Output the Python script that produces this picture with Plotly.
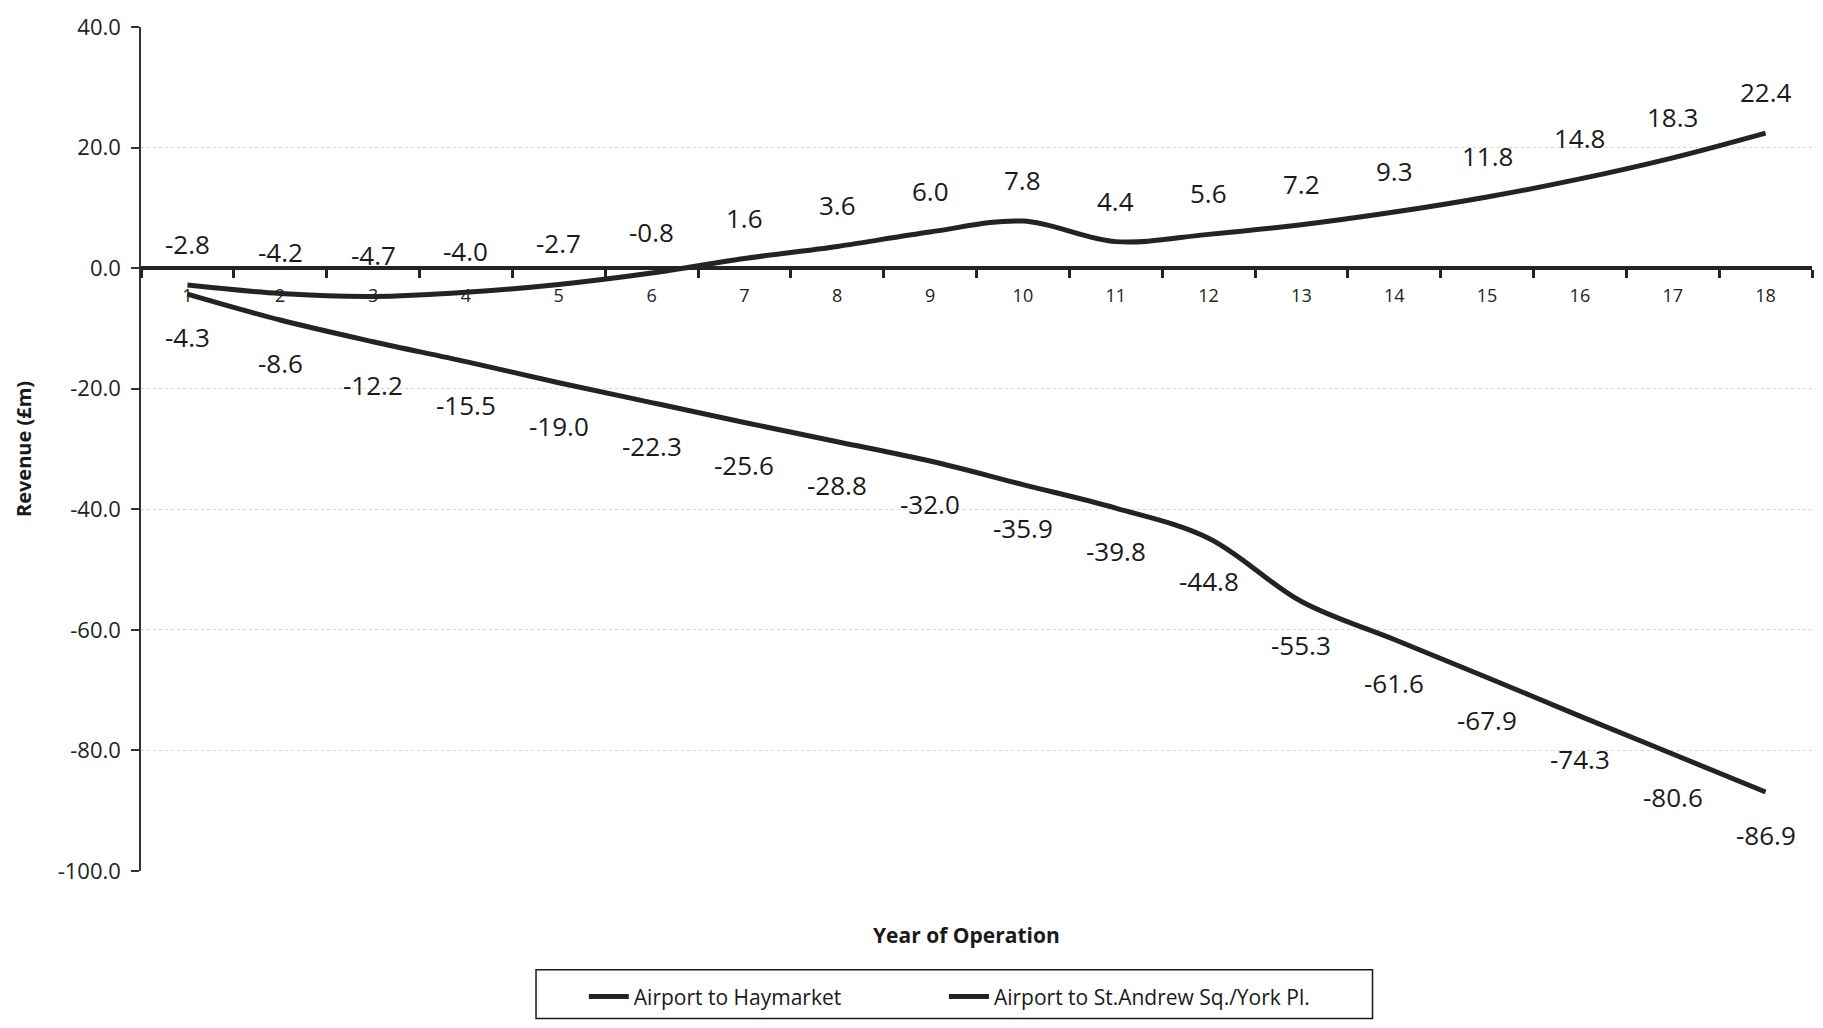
import plotly.graph_objects as go

years = list(range(1, 19))
haymarket = [-2.8, -4.2, -4.7, -4.0, -2.7, -0.8, 1.6, 3.6, 6.0, 7.8, 4.4, 5.6, 7.2, 9.3, 11.8, 14.8, 18.3, 22.4]
st_andrew = [-4.3, -8.6, -12.2, -15.5, -19.0, -22.3, -25.6, -28.8, -32.0, -35.9, -39.8, -44.8, -55.3, -61.6, -67.9, -74.3, -80.6, -86.9]
y_ticks = [40, 20, 0, -20, -40, -60, -80, -100]

FONT = "Open Sans"
LINE = "#232323"

fig = go.Figure()
fig.add_trace(go.Scatter(x=years, y=haymarket, mode="lines", name="Airport to Haymarket",
                         legend="legend",
                         line=dict(color=LINE, width=5, shape="spline", smoothing=1)))
fig.add_trace(go.Scatter(x=years, y=st_andrew, mode="lines", name="Airport to St.Andrew Sq./York Pl.",
                         legend="legend2",
                         line=dict(color=LINE, width=5, shape="spline", smoothing=1)))

anns = []
for x, v in zip(years, haymarket):
    anns.append(dict(x=x, y=v, xref="x", yref="y", text=f"{v:.1f}", showarrow=False,
                     yshift=41, font=dict(family=FONT, size=26, color="#1a1a1a")))
for x, v in zip(years, st_andrew):
    anns.append(dict(x=x, y=v, xref="x", yref="y", text=f"{v:.1f}", showarrow=False,
                     yshift=-43, font=dict(family=FONT, size=26, color="#1a1a1a")))
anns.append(dict(x=0.494, y=-0.076, xref="paper", yref="paper", text="<b>Year of Operation</b>",
                 xanchor="center", yanchor="middle",
                 showarrow=False, font=dict(family=FONT, size=21, color="#1a1a1a")))
anns.append(dict(x=-0.0706, y=0.5, xref="paper", yref="paper", text="<b>Revenue (£m)</b>",
                 xanchor="center", yanchor="middle",
                 textangle=-90, showarrow=False, font=dict(family=FONT, size=20, color="#1a1a1a")))

leg_common = dict(orientation="h", yanchor="middle", y=-0.149, xanchor="left",
                  borderwidth=0, bgcolor="rgba(0,0,0,0)", font=dict(family=FONT, size=21),
                  itemwidth=40)

fig.update_layout(
    width=1823, height=1028,
    margin=dict(l=141, r=11, t=21, b=154),
    paper_bgcolor="white", plot_bgcolor="white",
    font=dict(family=FONT, color="#1a1a1a"),
    annotations=anns,
    shapes=[dict(type="rect", xref="paper", yref="paper", x0=0.2364, x1=0.737, y0=-0.1747, y1=-0.117,
                 line=dict(color="#1a1a1a", width=1.5), fillcolor="rgba(0,0,0,0)")],
    showlegend=True,
    legend=dict(x=0.265, **leg_common),
    legend2=dict(x=0.4805, **leg_common),
    xaxis=dict(type="linear", anchor="free", position=100 / 140, range=[0.5, 18.5],
               showline=True, linecolor=LINE, linewidth=4,
               tickvals=years, ticktext=[str(y) for y in years], ticks="",
               ticklabelstandoff=10,
               minor=dict(tickvals=[y - 0.5 for y in years] + [18.5], ticks="outside",
                          ticklen=8, tickwidth=3, tickcolor=LINE, showgrid=False),
               tickfont=dict(family=FONT, size=18, color="#222"),
               showgrid=False, zeroline=False),
    yaxis=dict(range=[-100, 40], tickvals=y_ticks, ticktext=[f"{v:.1f}" for v in y_ticks],
               showline=True, linecolor="#333", linewidth=1.5,
               ticks="outside", ticklen=8, tickwidth=1.5, tickcolor="#333",
               ticklabelstandoff=6,
               tickfont=dict(family=FONT, size=22, color="#222"),
               showgrid=True, gridcolor="#d6d6d6", griddash="dot", gridwidth=1,
               zeroline=False),
)

fig.write_html("out.html")
